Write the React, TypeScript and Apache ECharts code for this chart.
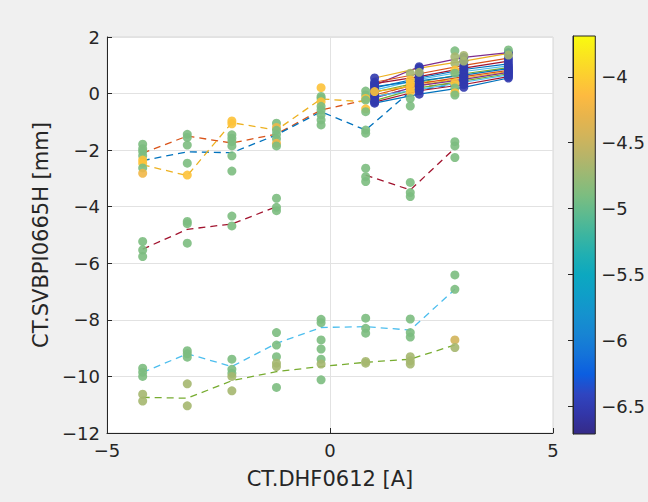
import React, { useEffect, useRef } from "react";
import * as echarts from "echarts";

// ---- colour scale (parula-like, evenly spaced from min to max) ----
const C_MIN = -6.71;
const C_MAX = -3.69;
const PARULA = [
  "#352A87", "#3236A8", "#2F45C0", "#0C5EE0", "#1473D9", "#1784D3", "#1592CE",
  "#0F9EC8", "#0CA8C0", "#20AFB2", "#3CB5A0", "#5CBA90", "#7CBD80", "#9AB974",
  "#B8B468", "#D2B45A", "#E8B44C", "#FDBA40", "#FCCE30", "#FAE420", "#F9FB0E",
];
const CBAR_TICKS = [-6.5, -6, -5.5, -5, -4.5, -4];

// colour values of the points
const G = -4.9;   // green
const Y = -4.08;  // yellow
const O = -4.23;  // orange
const L = -4.69;  // olive
const D = -6.52;  // dark blue

// ---- dashed mean lines ----
const X_GROUP = [-4.2, -3.2, -2.2, -1.2, -0.2, 0.8, 1.8, 2.8];
const MEAN_ORANGE = [-2.11, -1.5, -1.75, -1.43, -0.58, -0.23, 0.19, 0.36];
const MEAN_BLUE = [-2.37, -2.06, -2.09, -1.46, -0.64, -1.29, 0.07, 0.33];
const MEAN_YELLOW = [-2.52, -2.9, -1.03, -1.29, -0.19, -0.29, 0.36, 0.5];
const MEAN_DARKRED = [-5.5, -4.8, -4.61, -4.0, null, -2.88, -3.41, -1.93];
const MEAN_LIGHTBLUE = [-9.86, -9.2, -9.65, -8.83, -8.27, -8.24, -8.36, -6.92];
const MEAN_GREEN = [-10.74, -10.77, -10.15, -9.83, -9.65, -9.5, -9.39, -8.89];

// ---- solid lines of the dense cluster ----
const X_CLUSTER = [1, 2, 3, 4];
const CLUSTER_LINES = [
  [0.55, 0.9, 1.15, 1.42],
  [0.3, 0.95, 1.28, 1.45],
  [0.4, 0.7, 1.0, 1.25],
  [0.35, 0.6, 0.9, 1.15],
  [0.2, 0.55, 0.85, 1.05],
  [0.12, 0.5, 0.78, 0.98],
  [0.05, 0.4, 0.7, 0.92],
  [0.25, 0.45, 0.65, 0.88],
  [-0.05, 0.35, 0.6, 0.82],
  [0.07, 0.3, 0.55, 0.78],
  [-0.15, 0.28, 0.5, 0.75],
  [-0.25, 0.2, 0.45, 0.7],
  [-0.1, 0.15, 0.4, 0.66],
  [-0.3, 0.1, 0.32, 0.6],
  [-0.34, -0.02, 0.22, 0.55],
];
const LINE_COLORS = ["#0072BD", "#D95319", "#EDB120", "#7E2F8E", "#77AC30", "#4DBEEE", "#A2142F"];
const CLUSTER_LINE_COLORS = [2, 3, 1, 6, 0, 5, 4, 0, 1, 2, 3, 4, 5, 6, 0];

// ---- scattered measurements [x, y, colour value] ----
const PTS_UPPER = [
  [-4.2, -1.79, G], [-4.2, -1.95, G], [-4.2, -2.05, G], [-4.2, -2.2, G], [-4.2, -2.35, Y],
  [-4.2, -2.46, Y], [-4.2, -2.63, G], [-4.2, -2.82, O],
  [-3.2, -1.44, G], [-3.2, -1.55, G], [-3.2, -1.82, G], [-3.2, -2.46, G], [-3.2, -2.88, Y],
  [-2.2, -0.97, Y], [-2.2, -1.07, Y], [-2.2, -1.46, G], [-2.2, -1.58, G], [-2.2, -1.7, G],
  [-2.2, -1.85, G], [-2.2, -2.2, G], [-2.2, -2.74, G],
  [-1.2, -1.05, G], [-1.2, -1.2, O], [-1.2, -1.3, G], [-1.2, -1.45, G], [-1.2, -1.6, G],
  [-1.2, -1.76, O], [-1.2, -1.85, G],
  [-0.2, 0.21, Y], [-0.2, -0.1, G], [-0.2, -0.17, G], [-0.2, -0.29, Y], [-0.2, -0.45, G],
  [-0.2, -0.58, G], [-0.2, -0.75, G], [-0.2, -0.93, G], [-0.2, -1.11, G],
  [0.8, 0.09, G], [0.8, -0.05, G], [0.8, -0.17, Y], [0.8, -0.23, G], [0.8, -0.54, Y],
  [0.8, -0.64, G], [0.8, -1.29, G], [0.8, -1.4, G],
  [1.8, 0.72, L], [1.8, 0.48, Y], [1.8, 0.35, Y], [1.8, 0.2, Y], [1.8, 0.06, Y],
  [1.8, -0.17, G], [1.8, -0.44, G],
  [2.8, 1.51, G], [2.8, 1.3, L], [2.8, 1.07, L], [2.8, 0.83, Y], [2.8, 0.72, G],
  [2.8, 0.37, Y], [2.8, 0.2, G], [2.8, 0.03, Y], [2.8, -0.05, G],
];
const PTS_MID = [
  [-4.2, -5.23, G], [-4.2, -5.53, G], [-4.2, -5.76, G],
  [-3.2, -4.52, G], [-3.2, -4.6, G], [-3.2, -5.29, G],
  [-2.2, -4.33, G], [-2.2, -4.68, G],
  [-1.2, -3.7, G], [-1.2, -4.02, G], [-1.2, -4.14, G],
  [0.8, -2.64, G], [0.8, -2.94, G], [0.8, -3.11, G],
  [1.8, -3.14, G], [1.8, -3.5, G], [1.8, -3.64, G],
  [2.8, -1.7, G], [2.8, -1.85, G], [2.8, -2.26, G],
];
const PTS_LOWER = [
  [-4.2, -9.71, G], [-4.2, -9.85, G], [-4.2, -10.0, G],
  [-3.2, -9.09, G], [-3.2, -9.2, G], [-3.2, -9.32, G],
  [-2.2, -9.39, G], [-2.2, -9.75, G], [-2.2, -9.89, G],
  [-1.2, -8.45, G], [-1.2, -8.89, G], [-1.2, -9.3, G],
  [-0.2, -7.98, G], [-0.2, -8.1, G], [-0.2, -8.71, G], [-0.2, -9.03, G],
  [0.8, -7.94, G], [0.8, -8.3, G], [0.8, -8.47, G],
  [1.8, -7.97, G], [1.8, -8.45, G], [1.8, -8.61, G],
  [2.8, -6.41, G], [2.8, -6.92, G],
];
const PTS_BOTTOM = [
  [-4.2, -10.63, L], [-4.2, -10.87, L],
  [-3.2, -10.26, L], [-3.2, -11.04, L],
  [-2.2, -10.0, L], [-2.2, -10.51, L],
  [-1.2, -9.53, L], [-1.2, -9.65, L], [-1.2, -10.39, G],
  [-0.2, -9.39, G], [-0.2, -9.56, L], [-0.2, -10.12, G],
  [0.8, -9.47, L], [0.8, -9.53, L],
  [1.8, -9.3, L], [1.8, -9.45, L], [1.8, -9.56, L],
  [2.8, -8.71, -4.45], [2.8, -8.98, L],
];
const PTS_CLUSTER_EXTRA = [
  [1, 0.07, Y], [2, 0.75, L], [3, 1.35, L], [3, 1.15, L], [4, 1.54, G], [4, 1.36, L],
];

const FONT = "DejaVu Sans";
const TXT = "#262626";
const fmt = (v: number) => (v < 0 ? "\u2212" + String(Math.abs(v)) : String(v));

export default function App() {
  const ref = useRef<HTMLDivElement>(null);
  useEffect(() => {
    if (!ref.current) return;
    const chart = echarts.init(ref.current, null, { renderer: "svg" });

    const dashed = [
      { data: MEAN_ORANGE, color: "#D95319" },
      { data: MEAN_BLUE, color: "#0072BD" },
      { data: MEAN_YELLOW, color: "#EDB120" },
      { data: MEAN_DARKRED, color: "#A2142F" },
      { data: MEAN_LIGHTBLUE, color: "#4DBEEE" },
      { data: MEAN_GREEN, color: "#77AC30" },
    ].map((d) => ({
      type: "line",
      xAxisIndex: 0,
      yAxisIndex: 0,
      data: X_GROUP.map((x, i) => [x, d.data[i]]),
      symbol: "none",
      connectNulls: false,
      lineStyle: { color: d.color, width: 1.3, type: [7, 5] },
      z: 2,
    }));

    const solid = CLUSTER_LINES.map((ys, k) => ({
      type: "line",
      xAxisIndex: 0,
      yAxisIndex: 0,
      data: X_CLUSTER.map((x, i) => [x, ys[i]]),
      symbol: "none",
      lineStyle: { color: LINE_COLORS[CLUSTER_LINE_COLORS[k]], width: 1.2 },
      z: 2,
    }));

    const clusterPts: number[][] = [];
    CLUSTER_LINES.forEach((ys) => X_CLUSTER.forEach((x, i) => clusterPts.push([x, ys[i], D])));

    const allPts = [
      ...clusterPts,
      ...PTS_UPPER,
      ...PTS_MID,
      ...PTS_LOWER,
      ...PTS_BOTTOM,
      ...PTS_CLUSTER_EXTRA,
    ];

    const scatterIndex = dashed.length + solid.length;

    const gradStops = PARULA.map((c, i) => ({ offset: 1 - i / (PARULA.length - 1), color: c })).reverse();

    chart.setOption({
      animation: false,
      backgroundColor: "#f0f0f0",
      textStyle: { fontFamily: FONT },
      grid: [
        {
          left: 107, right: 95, top: 37, bottom: 69,
          show: true, backgroundColor: "#ffffff", borderColor: "#d6d6d6", borderWidth: 1,
        },
        {
          left: 573, right: 44, top: 36, bottom: 68,
          show: true,
          backgroundColor: new echarts.graphic.LinearGradient(0, 0, 0, 1, gradStops),
          borderColor: TXT, borderWidth: 1,
        },
      ],
      xAxis: [
        {
          type: "value", gridIndex: 0, min: -5, max: 5, interval: 5,
          name: "CT.DHF0612 [A]", nameLocation: "middle", nameGap: 35,
          nameTextStyle: { fontSize: 21, color: TXT, fontFamily: FONT },
          axisLine: { show: true, onZero: false, lineStyle: { color: TXT } },
          axisTick: { show: true, inside: true, length: 5, lineStyle: { color: TXT } },
          axisLabel: { fontSize: 18, color: TXT, margin: 8, formatter: fmt, fontFamily: FONT },
          splitLine: { show: true, lineStyle: { color: "#e2e2e2", width: 1 } },
        },
        { type: "value", gridIndex: 1, min: 0, max: 1, show: false },
      ],
      yAxis: [
        {
          type: "value", gridIndex: 0, min: -12, max: 2, interval: 2,
          name: "CT.SVBPI0665H [mm]", nameLocation: "middle", nameGap: 44,
          nameTextStyle: { fontSize: 21, color: TXT, fontFamily: FONT },
          axisLine: { show: true, onZero: false, lineStyle: { color: TXT } },
          axisTick: { show: true, inside: true, length: 5, lineStyle: { color: TXT } },
          axisLabel: { fontSize: 18, color: TXT, margin: 7, formatter: fmt, fontFamily: FONT },
          splitLine: { show: true, lineStyle: { color: "#e2e2e2", width: 1 } },
        },
        {
          type: "value", gridIndex: 1, position: "right", min: C_MIN, max: C_MAX,
          axisLine: { show: true, lineStyle: { color: TXT } },
          axisTick: { show: true, inside: true, length: 5, customValues: CBAR_TICKS, lineStyle: { color: TXT } },
          axisLabel: {
            show: true, fontSize: 18, color: TXT, margin: 6, customValues: CBAR_TICKS,
            formatter: fmt, fontFamily: FONT,
          },
          splitLine: { show: false },
        },
      ],
      visualMap: {
        type: "continuous",
        show: false,
        dimension: 2,
        seriesIndex: scatterIndex,
        min: C_MIN,
        max: C_MAX,
        inRange: { color: PARULA },
      },
      series: [
        ...dashed,
        ...solid,
        {
          type: "scatter",
          xAxisIndex: 0,
          yAxisIndex: 0,
          data: allPts,
          symbol: "circle",
          symbolSize: 9,
          itemStyle: { opacity: 0.9 },
          z: 3,
        },
        { type: "scatter", xAxisIndex: 1, yAxisIndex: 1, data: [] },
      ],
    });
    return () => chart.dispose();
  }, []);

  return (
    <div style={{ position: "fixed", left: 0, top: 0, width: 648, height: 502, background: "#f0f0f0" }}>
      <div ref={ref} style={{ width: 648, height: 502 }} />
    </div>
  );
}
